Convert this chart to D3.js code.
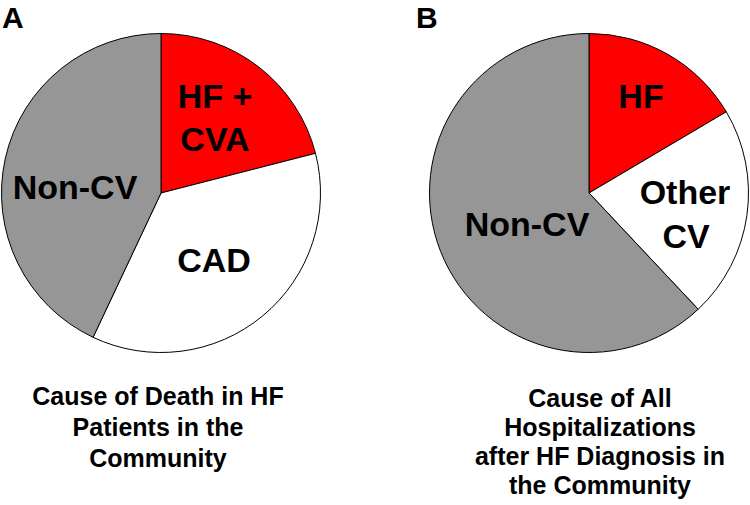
<!DOCTYPE html>
<html><head><meta charset="utf-8">
<script src="https://cdn.jsdelivr.net/npm/d3@7"></script>
<style>body{margin:0;background:#fff}svg{display:block}text{font-family:"Liberation Sans",Arial,sans-serif;font-weight:bold;fill:#000}</style>
</head><body>
<script>
const categoriesA = ["HF + CVA", "CAD", "Non-CV"];
const valuesA = [21, 36, 43];
const categoriesB = ["HF", "Other CV", "Non-CV"];
const valuesB = [16.5, 21.5, 62];
const colors = ["#ff0000", "#ffffff", "#969696"];
const titleA = ["Cause of Death in HF", "Patients in the", "Community"];
const titleB = ["Cause of All", "Hospitalizations", "after HF Diagnosis in", "the Community"];

const W = 750, H = 505;
const svg = d3.select("body").append("svg").attr("width", W).attr("height", H);
const R = 159.5;
const pie = d3.pie().sort(null).value(d => d);
const arc = d3.arc().innerRadius(0).outerRadius(R);

function drawPie(cx, cy, values, labels) {
  const g = svg.append("g").attr("transform", `translate(${cx},${cy})`);
  g.selectAll("path").data(pie(values)).join("path")
    .attr("d", arc).attr("fill", (d, i) => colors[i])
    .attr("stroke", "#000").attr("stroke-width", 1);
  labels.forEach(l => {
    g.append("text").attr("x", l.x).attr("y", l.y).attr("text-anchor", "middle")
      .attr("font-size", 34).text(l.t);
  });
}

drawPie(161, 193, valuesA, [
  {t: "HF +", x: 54, y: -85}, {t: "CVA", x: 54, y: -42},
  {t: "CAD", x: 53, y: 79}, {t: "Non-CV", x: -86, y: 6}
]);
drawPie(589, 193, valuesB, [
  {t: "HF", x: 52, y: -85}, {t: "Other", x: 96, y: 11}, {t: "CV", x: 97, y: 55},
  {t: "Non-CV", x: -62, y: 43}
]);

svg.append("text").attr("x", 2).attr("y", 28).attr("font-size", 30).text("A");
svg.append("text").attr("x", 416).attr("y", 28).attr("font-size", 30).text("B");

titleA.forEach((t, i) => svg.append("text").attr("x", 158).attr("y", 405 + i * 30.8)
  .attr("text-anchor", "middle").attr("font-size", 25).text(t));
titleB.forEach((t, i) => svg.append("text").attr("x", 600).attr("y", 406.5 + i * 29.2)
  .attr("text-anchor", "middle").attr("font-size", 25).text(t));
</script>
</body></html>
